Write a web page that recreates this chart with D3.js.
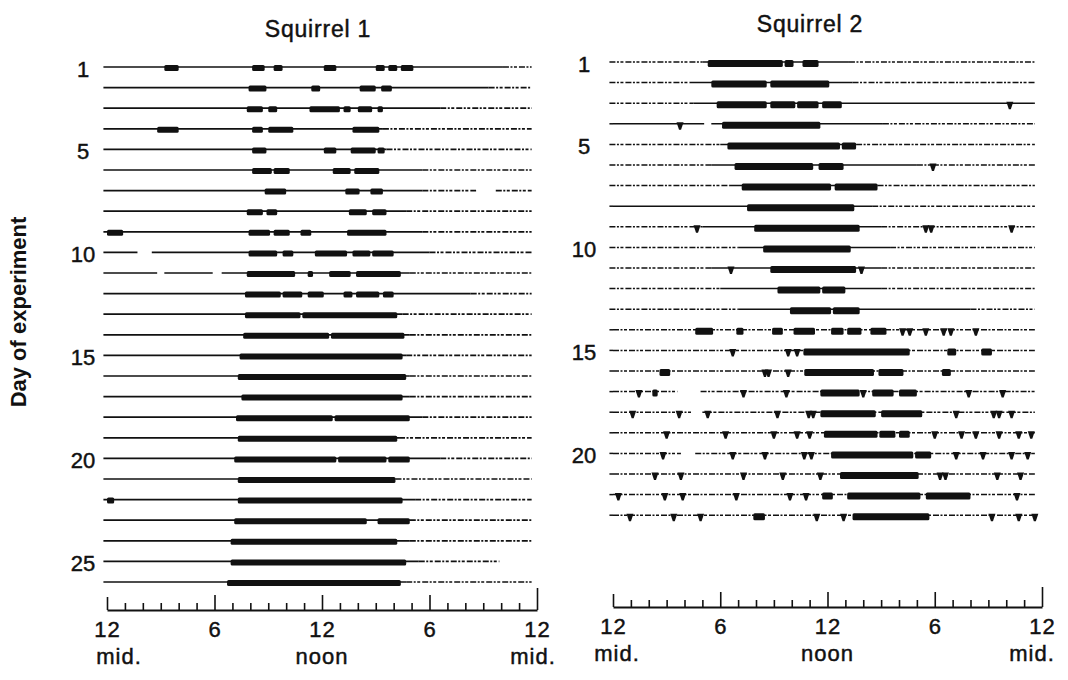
<!DOCTYPE html>
<html>
<head>
<meta charset="utf-8">
<script src="https://cdn.jsdelivr.net/npm/d3@7/dist/d3.min.js"></script>
<style>
  body { margin: 0; background: #fff; }
  text { font-family: "Liberation Sans", Arial, sans-serif; fill: #111; }
</style>
</head>
<body>
<div id="chart"></div>
<script>
// time axis: one tick per hour, labels every 6 hours
const hourTicks = [0,1,2,3,4,5,6,7,8,9,10,11,12,13,14,15,16,17,18,19,20,21,22,23,24];
const majorHours = [0, 6, 12, 18, 24];
const majorLabels = ["12", "6", "12", "6", "12"];
const subHours = [0, 12, 24];
const subLabels = ["mid.", "noon", "mid."];

// Squirrel 1 : activity bouts per day, [start hour, end hour]
const s1DayLabels = [1, 5, 10, 15, 20, 25];
const s1Bouts = [
  [[3.2,4.0],[8.1,8.8],[9.3,9.8],[12.1,12.8],[15.0,15.5],[15.7,16.2],[16.4,17.1]],
  [[7.9,8.9],[11.4,11.9],[14.1,15.0],[15.3,15.9]],
  [[7.8,8.7],[9.0,9.5],[11.3,13.0],[13.2,13.6],[14.0,14.8],[15.1,15.4]],
  [[2.8,4.0],[8.1,8.7],[9.0,10.4],[13.7,15.2]],
  [[8.1,8.9],[12.1,12.8],[13.6,15.0],[15.1,15.5]],
  [[8.1,9.2],[9.3,10.2],[12.6,13.6],[13.8,15.2]],
  [[8.8,10.0],[13.3,14.1],[14.7,15.4]],
  [[7.8,8.7],[8.9,9.5],[13.5,14.5],[14.8,15.6]],
  [[0.0,0.9],[7.9,9.1],[9.3,10.2],[10.8,11.4],[13.4,15.6]],
  [[7.9,9.5],[9.8,10.4],[11.6,13.4],[13.7,14.7],[14.8,16.0]],
  [[7.8,10.5],[11.2,11.5],[12.4,13.6],[13.9,16.4]],
  [[7.7,9.7],[9.8,10.9],[11.2,12.1],[13.2,13.7],[13.9,15.2],[15.4,16.0]],
  [[7.7,10.8],[10.9,16.2]],
  [[7.6,12.4],[12.5,16.6]],
  [[7.4,16.5]],
  [[7.3,16.7]],
  [[7.5,16.5]],
  [[7.2,12.6],[12.7,16.9]],
  [[7.3,16.2]],
  [[7.1,12.8],[12.9,15.6],[15.7,16.9]],
  [[7.3,16.1]],
  [[0.0,0.4],[7.3,16.5]],
  [[7.1,14.5],[15.1,16.9]],
  [[6.9,16.2]],
  [[6.9,16.7]],
  [[6.7,16.4]]
];
// hour after which the trace turns into a broken line
const s1DotFrom = [22.1, 21.3, 18.6, 15.4, 15.6, 17.6, 17.6, 16.7, 17.6, 18.0, 16.9, 20.3, 16.5,
  16.9, 16.7, 16.9, 16.9, 17.6, 16.3, 18.6, 16.1, 17.2, 16.9, 16.9, 17.4, 16.7];
const s1LineEnd = [23.7, 23.7, 23.7, 23.7, 23.7, 23.7, 23.7, 23.7, 23.7, 23.7, 23.7, 23.7, 23.7,
  23.7, 23.7, 23.7, 23.7, 23.7, 23.7, 23.7, 23.7, 23.7, 23.7, 23.7, 21.9, 23.7];
// [day, from, to] where the trace is missing
const s1Gaps = [[7, 20.6, 21.7], [10, 1.7, 2.5], [11, 2.8, 3.2], [11, 5.9, 6.4]];

// Squirrel 2
const s2DayLabels = [1, 5, 10, 15, 20];
const s2Bouts = [
  [[5.3,9.5],[9.6,10.1],[10.6,11.5]],
  [[5.5,8.6],[8.8,12.1]],
  [[5.8,8.6],[8.8,10.2],[10.3,11.5],[11.7,12.8]],
  [[6.1,11.6]],
  [[6.4,12.7],[12.8,13.6]],
  [[6.8,11.2],[11.5,12.9]],
  [[7.2,12.2],[12.4,14.8]],
  [[7.5,13.5]],
  [[7.9,13.8]],
  [[8.4,13.3]],
  [[8.8,13.6]],
  [[9.2,11.6],[11.7,13.0]],
  [[9.9,12.2],[12.3,13.8]],
  [[4.6,5.6],[6.9,7.3],[8.9,9.5],[10.1,11.3],[12.2,12.9],[13.1,13.9],[14.4,15.3]],
  [[10.65,16.6],[18.7,19.2],[20.6,21.2]],
  [[2.6,3.2],[10.7,14.6],[14.85,16.25],[18.4,18.9]],
  [[2.2,2.5],[11.6,13.8],[14.5,15.7],[16.0,17.0]],
  [[11.6,14.7],[15.0,17.3]],
  [[11.8,14.8],[14.9,15.8],[16.0,16.6]],
  [[12.2,16.8],[16.9,17.8]],
  [[12.7,17.1]],
  [[11.7,12.3],[13.1,17.2],[17.5,20.0]],
  [[7.85,8.5],[13.4,17.7]]
];
// short single counts (little spikes under the trace)
const s2Spikes = [
  [], [], [22.2], [3.75], [], [17.9], [], [], [4.7, 17.5, 17.8, 22.3], [], [6.6, 13.9], [], [],
  [16.2, 16.6, 17.5, 18.5, 18.9, 20.3],
  [6.7, 9.8, 10.3],
  [8.5, 8.7, 9.8],
  [1.45, 7.3, 9.7, 14.0, 19.9, 21.8],
  [1.1, 3.7, 5.3, 9.2, 10.95, 11.2, 19.2, 21.3, 21.6, 22.3],
  [3.0, 6.3, 9.0, 10.3, 11.0, 18.0, 19.5, 20.3, 21.6, 22.7, 23.4],
  [2.8, 6.7, 8.5, 10.7, 11.1, 19.2, 20.7, 22.3, 23.2],
  [2.35, 3.8, 7.3, 9.5, 11.6, 18.3, 18.6, 21.5, 22.8],
  [0.3, 2.9, 3.9, 6.9, 9.9, 10.8, 22.6],
  [0.95, 3.4, 4.9, 11.4, 12.9, 21.2, 22.7, 23.6]
];
// part of each trace drawn solid, the rest is broken
const s2Solid = [[5.0,13.2],[4.3,13.4],[4.5,23.5],[0,15.1],[6.0,13.6],[5.5,17.0],[6.5,14.8],
  [0,14.5],[5.0,15.0],[7.0,15.5],[5.5,15.0],[6.0,15.0],[7.0,20.0],
  [0,0],[0,0],[0,0],[0,0],[0,0],[0,0],[0,0],[0,0],[0,0],[0,0]];
const s2LineEnd = [23.6, 23.6, 23.6, 23.6, 23.6, 23.6, 23.6, 23.6, 23.6, 23.6, 23.6, 23.6,
  23.6, 23.6, 23.6, 23.6, 23.6, 23.6, 23.6, 23.6, 23.6, 23.6, 23.6];
const s2Gaps = [[4, 5.1, 5.5], [17, 3.6, 4.9], [18, 4.4, 5.0], [20, 3.8, 4.6]];

const svg = d3
  .select("#chart")
  .append("svg")
  .attr("width", 1068)
  .attr("height", 680);

svg.append("rect").attr("width", 1068).attr("height", 680).attr("fill", "#fff");

// cut a trace into pieces, leaving out gaps, flagging broken parts
function splitTrace(end, gaps, solid) {
  let parts = [[-0.2, end]];
  gaps.forEach(([g0, g1]) => {
    parts = parts.flatMap(([a, b]) => {
      if (g1 <= a || g0 >= b) return [[a, b]];
      const out = [];
      if (g0 > a) out.push([a, g0]);
      if (g1 < b) out.push([g1, b]);
      return out;
    });
  });
  const segs = [];
  parts.forEach(([a, b]) => {
    const cuts = [a, ...solid.filter(c => c > a && c < b), b];
    for (let i = 0; i < cuts.length - 1; i++) {
      const mid = (cuts[i] + cuts[i + 1]) / 2;
      segs.push({ a: cuts[i], b: cuts[i + 1], dashed: mid < solid[0] || mid > solid[1] });
    }
  });
  return segs;
}

// scanned print looks a little heavy, thicken the glyphs
function inked(sel) {
  sel.attr("fill", "#111").attr("stroke", "#111").attr("stroke-width", 0.45);
}

function drawPanel(p) {
  const g = svg.append("g");
  const nDays = p.bouts.length;
  const x = d3.scaleLinear().domain([0, 24]).range([p.left, p.right]);
  const y = d3.scaleLinear().domain([1, nDays]).range([p.top, p.top + (nDays - 1) * p.step]);

  g.append("text")
    .attr("x", p.titleX)
    .attr("y", p.titleY)
    .attr("text-anchor", "middle")
    .attr("font-size", 23)
    .attr("letter-spacing", 0.8)
    .call(inked)
    .text(p.title);

  const rows = g.selectAll(".day")
    .data(p.bouts)
    .join("g")
    .attr("class", "day")
    .attr("transform", (d, i) => `translate(0,${y(i + 1)})`);

  rows.each(function(bouts, i) {
    const row = d3.select(this);
    const gaps = p.gaps.filter(gp => gp[0] === i + 1).map(gp => [gp[1], gp[2]]);
    const segs = splitTrace(p.lineEnd[i], gaps, p.solid(i));
    row.selectAll("line")
      .data(segs)
      .join("line")
      .attr("x1", s => x(s.a))
      .attr("x2", s => x(s.b))
      .attr("stroke", "#111")
      .attr("stroke-width", p.traceWidth)
      .attr("stroke-dasharray", s => s.dashed ? "6,1.5,2,1.5,3,2" : null);

    row.selectAll("rect")
      .data(bouts)
      .join("rect")
      .attr("x", b => x(b[0]))
      .attr("width", b => x(b[1]) - x(b[0]))
      .attr("y", -2)
      .attr("height", p.barHeight)
      .attr("rx", 1.5)
      .attr("fill", "#111");

    row.selectAll("path")
      .data(p.spikes ? p.spikes[i] : [])
      .join("path")
      .attr("d", h => `M${x(h) - 3.5},-1.5L${x(h) + 3.5},-1.5L${x(h) + 1},6L${x(h) - 1},6Z`)
      .attr("fill", "#111");
  });

  g.selectAll(".daylab")
    .data(p.dayLabels)
    .join("text")
    .attr("class", "daylab")
    .attr("x", p.labelX)
    .attr("y", d => y(d) + 2)
    .attr("dy", "0.36em")
    .attr("text-anchor", "middle")
    .attr("font-size", 22)
    .call(inked)
    .text(d => d);

  // hour scale, ticks pointing up
  const axis = g.append("g")
    .attr("transform", `translate(0,${p.axisY})`)
    .call(d3.axisTop(x).tickValues(hourTicks).tickSize(7).tickSizeOuter(0).tickFormat(""));
  axis.select(".domain").attr("stroke", "#111").attr("stroke-width", 2);
  axis.selectAll(".tick line")
    .attr("stroke", "#111")
    .attr("stroke-width", 1.6)
    .attr("y2", d => d === 0 ? -13 : d === 24 ? -p.endTick : d % 6 === 0 ? -15 : -7);

  const labs = g.append("g")
    .attr("transform", `translate(0,${p.axisY + 27})`)
    .call(d3.axisBottom(x).tickValues(majorHours).tickSize(0).tickFormat((d, i) => majorLabels[i]));
  labs.select(".domain").remove();
  labs.selectAll("text")
    .attr("y", 0)
    .attr("dy", null)
    .attr("font-size", 22)
    .attr("letter-spacing", 1)
    .attr("font-family", "Liberation Sans, Arial, sans-serif")
    .call(inked);

  g.selectAll(".sublab")
    .data(subHours)
    .join("text")
    .attr("class", "sublab")
    .attr("x", (d, i) => x(d) + p.subOffset[i])
    .attr("y", p.axisY + 54)
    .attr("text-anchor", "middle")
    .attr("font-size", 22)
    .attr("letter-spacing", 1)
    .call(inked)
    .text((d, i) => subLabels[i]);
}

drawPanel({
  title: "Squirrel 1", titleX: 318, titleY: 37,
  bouts: s1Bouts, dayLabels: s1DayLabels, lineEnd: s1LineEnd, gaps: s1Gaps,
  solid: i => [-0.2, s1DotFrom[i]],
  left: 107, right: 537, top: 67, step: 20.6,
  labelX: 83, axisY: 610, endTick: 22,
  traceWidth: 1.7, barHeight: 6,
  subOffset: [12, 0, -4]
});

drawPanel({
  title: "Squirrel 2", titleX: 810, titleY: 32,
  bouts: s2Bouts, spikes: s2Spikes, dayLabels: s2DayLabels, lineEnd: s2LineEnd, gaps: s2Gaps,
  solid: i => s2Solid[i],
  left: 613, right: 1042, top: 62, step: 20.6,
  labelX: 584, axisY: 607, endTick: 20,
  traceWidth: 1.5, barHeight: 7,
  subOffset: [4, 0, -10]
});

// shared day axis title
svg.append("text")
  .attr("transform", "translate(26,312) rotate(-90)")
  .attr("text-anchor", "middle")
  .attr("font-size", 22)
  .attr("font-weight", "bold")
  .text("Day of experiment");
</script>
</body>
</html>
